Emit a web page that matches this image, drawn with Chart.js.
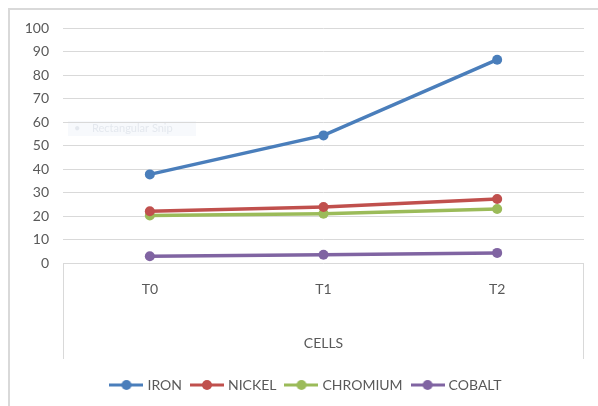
<!DOCTYPE html>
<html>
<head>
<meta charset="utf-8">
<script src="https://cdn.jsdelivr.net/npm/chart.js@4.4.0/dist/chart.umd.min.js"></script>
<style>
html, body { margin: 0; padding: 0; background: #fff; }
#wrap { width: 598px; height: 406px; position: relative; }
</style>
</head>
<body>
<div id="wrap"><canvas id="chart"></canvas></div>
<script>
// data
const cells = ['T0', 'T1', 'T2'];
const iron = [37.7, 54.3, 86.5];
const nickel = [22.0, 23.8, 27.2];
const chromium = [20.2, 21.0, 23.0];
const cobalt = [2.9, 3.5, 4.3];
const yMin = 0, yMax = 100, yStep = 10;

const names = ['IRON', 'NICKEL', 'CHROMIUM', 'COBALT'];
const colors = ['#4a7ebb', '#c0504d', '#9bbb59', '#8064a2'];
const series = [iron, nickel, chromium, cobalt];

const FONT = 'Lato, "Open Sans", sans-serif';
const GREY = '#595959';

// legend symbol: line with a dot
function legendIcon(color) {
    const c = document.createElement('canvas');
    c.width = 34; c.height = 12;
    const g = c.getContext('2d');
    g.strokeStyle = color; g.lineWidth = 3;
    g.beginPath(); g.moveTo(0, 6); g.lineTo(34, 6); g.stroke();
    g.fillStyle = color;
    g.beginPath(); g.arc(17, 6, 5, 0, Math.PI * 2); g.fill();
    return c;
}
const icons = colors.map(legendIcon);

// frame, axis box and the snip ghost
const decor = {
    id: 'decor',
    beforeDraw(chart) {
        const ctx = chart.ctx;
        ctx.save();
        ctx.strokeStyle = '#d9d9d9';
        ctx.lineWidth = 2;
        ctx.beginPath();
        ctx.moveTo(9, 406); ctx.lineTo(9, 9); ctx.lineTo(598, 9);
        ctx.stroke();
        // faint snip tooltip
        ctx.fillStyle = '#f7f9fc';
        ctx.fillRect(68, 121, 128, 15);
        ctx.fillStyle = '#e4e8ee';
        ctx.font = '11px ' + FONT;
        ctx.textBaseline = 'middle';
        ctx.fillText('\u2022', 74, 128.5);
        ctx.fillText('Rectangular Snip', 92, 128.5);
        ctx.restore();
    },
    afterDraw(chart) {
        const a = chart.chartArea;
        const ctx = chart.ctx;
        const end = a.bottom + 96;
        ctx.save();
        ctx.strokeStyle = '#d9d9d9';
        ctx.lineWidth = 1;
        ctx.beginPath();
        ctx.moveTo(a.left + 0.5, a.bottom); ctx.lineTo(a.left + 0.5, end);
        ctx.moveTo(a.right - 0.5, a.bottom); ctx.lineTo(a.right - 0.5, end);
        ctx.stroke();
        ctx.restore();
    }
};

new Chart(document.getElementById('chart'), {
    type: 'line',
    data: {
        labels: cells,
        datasets: series.map((d, i) => ({
            label: names[i],
            data: d,
            borderColor: colors[i],
            backgroundColor: colors[i],
            borderWidth: 3.5,
            pointRadius: 5,
            pointHoverRadius: 5,
            pointBorderWidth: 0,
            tension: 0
        }))
    },
    options: {
        responsive: true,
        maintainAspectRatio: false,
        animation: false,
        layout: { padding: { top: 28, right: 14, left: 30, bottom: 4 } },
        plugins: {
            tooltip: { enabled: false },
            legend: {
                position: 'bottom',
                labels: {
                    usePointStyle: true,
                    pointStyleWidth: 28,
                    padding: 11,
                    color: GREY,
                    font: { family: FONT, size: 14 },
                    generateLabels: chart => chart.data.datasets.map((ds, i) => ({
                        text: ds.label,
                        pointStyle: icons[i],
                        fillStyle: colors[i],
                        strokeStyle: colors[i],
                        fontColor: GREY,
                        lineWidth: 0,
                        datasetIndex: i
                    }))
                }
            }
        },
        scales: {
            x: {
                offset: true,
                grid: { display: false },
                border: { display: false },
                ticks: { color: GREY, font: { family: FONT, size: 14 }, padding: 10 },
                title: { display: true, text: 'CELLS', color: GREY, font: { family: FONT, size: 14 }, padding: { top: 0, bottom: 15 } },
                afterFit: s => { s.height = 104; }
            },
            y: {
                min: yMin, max: yMax,
                border: { display: false },
                grid: { color: '#d9d9d9', lineWidth: 1, drawTicks: false },
                ticks: { stepSize: yStep, color: GREY, font: { family: FONT, size: 14 }, padding: 14 },
                afterFit: s => {
                    s.width = 33;
                    s._computeLabelArea = () => undefined; // let labels spill into the left padding
                }
            }
        }
    },
    plugins: [decor]
});
</script>
</body>
</html>
